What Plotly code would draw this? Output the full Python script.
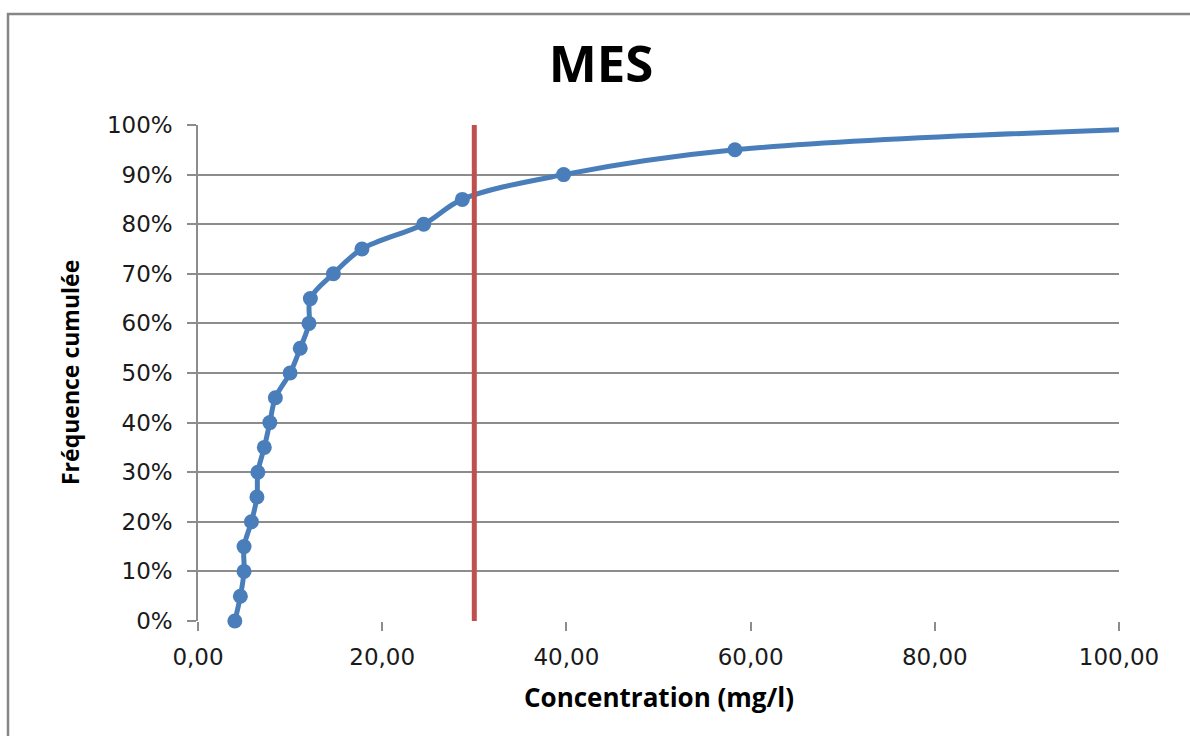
import plotly.graph_objects as go

# Data
concentration = [4.0, 4.6, 5.0, 5.0, 5.8, 6.4, 6.5, 7.2, 7.8, 8.4, 10.0, 11.1,
                 12.05, 12.2, 14.7, 17.8, 24.5, 28.7, 39.7, 58.3, 115.0]
frequence = [0.00, 0.05, 0.10, 0.15, 0.20, 0.25, 0.30, 0.35, 0.40, 0.45, 0.50, 0.55,
             0.60, 0.65, 0.70, 0.75, 0.80, 0.85, 0.90, 0.95, 1.00]
seuil_x = [30, 30]
seuil_y = [0, 1]

x_ticks = [0, 20, 40, 60, 80, 100]
y_ticks = [i / 10 for i in range(11)]
x_max = 100

FONT = "Open Sans, Lato, DejaVu Sans, sans-serif"
TICKFONT = "DejaVu Sans, Open Sans, sans-serif"
TXT = "#1a1a1a"
GRID = "#8c8c8c"
BLUE = "#4A7EBB"

visible = [(c, f) for c, f in zip(concentration, frequence) if c <= x_max]

fig = go.Figure()
fig.add_trace(go.Scatter(
    x=concentration, y=frequence, mode="lines",
    line=dict(color=BLUE, width=5, shape="spline", smoothing=1.0),
    showlegend=False, name="MES"))
fig.add_trace(go.Scatter(
    x=[c for c, f in visible], y=[f for c, f in visible], mode="markers",
    marker=dict(color=BLUE, size=15),
    cliponaxis=False, showlegend=False, name="MES points"))
fig.add_trace(go.Scatter(
    x=seuil_x, y=seuil_y, mode="lines",
    line=dict(color="#C0504D", width=5), showlegend=False, name="Seuil"))

fig.update_layout(
    width=1190, height=736,
    margin=dict(l=198, r=71, t=125, b=115),
    paper_bgcolor="white", plot_bgcolor="white",
    separators=", ",
    font=dict(family=FONT, size=23, color=TXT),
    title=dict(text="<b>MES</b>", x=601 / 1190, xanchor="center",
               y=1 - 64 / 736, yanchor="middle",
               font=dict(family=FONT, size=51, color="#000000")),
    xaxis=dict(range=[0, x_max], tickvals=x_ticks, tickformat=".2f",
               showgrid=False, zeroline=False,
               showline=False, ticks="outside", ticklen=9, tickwidth=1.5,
               tickcolor=GRID, ticklabelstandoff=6,
               tickfont=dict(family=TICKFONT, size=23, color=TXT)),
    yaxis=dict(range=[0, 1], tickvals=y_ticks, tickformat=".0%",
               showgrid=True, gridcolor=GRID, gridwidth=1.5, zeroline=False,
               showline=True, linecolor=GRID, linewidth=1.5,
               ticks="outside", ticklen=9, tickwidth=1.5, tickcolor=GRID,
               ticklabelstandoff=10,
               tickfont=dict(family=TICKFONT, size=23, color=TXT)),
    annotations=[
        dict(text="<b>Concentration (mg/l)</b>", xref="paper", yref="paper",
             x=0.5, y=(621 - 697) / 496, xanchor="center", yanchor="middle",
             showarrow=False, font=dict(family=FONT, size=26, color="#000000")),
        dict(text="<b>Fréquence cumulée</b>", xref="paper", yref="paper",
             x=(70 - 198) / 921, y=0.5, xanchor="center", yanchor="middle",
             textangle=-90, showarrow=False,
             font=dict(family=FONT, size=23, color="#000000")),
    ],
    shapes=[
        dict(type="rect", xref="paper", yref="paper",
             x0=(8 - 198) / 921, x1=(1205 - 198) / 921,
             y0=(621 - 760) / 496, y1=(621 - 14) / 496,
             line=dict(color="#868686", width=2.5), layer="below"),
    ],
)

fig.write_html("out.html")
